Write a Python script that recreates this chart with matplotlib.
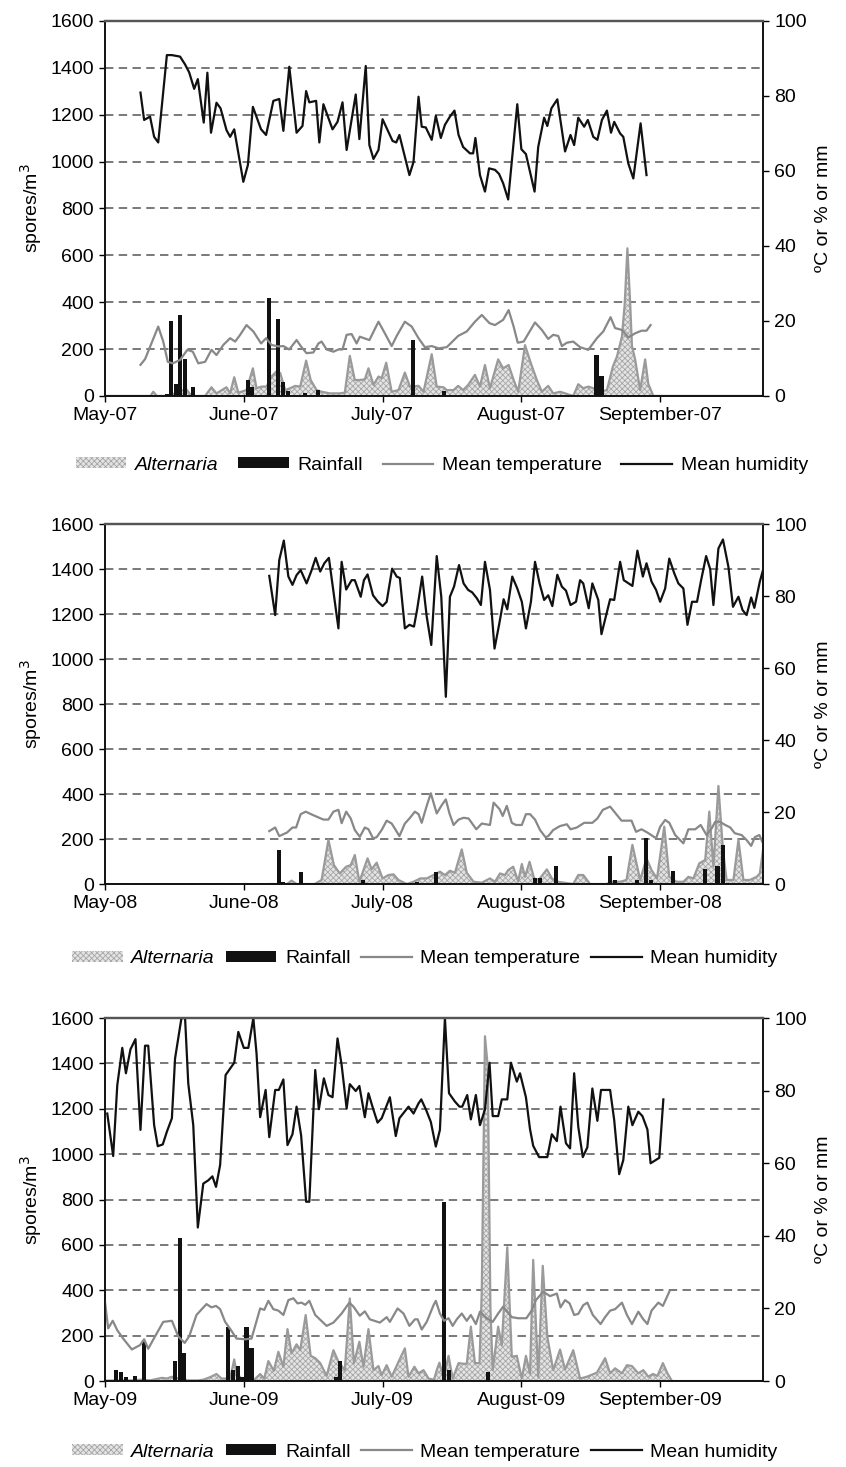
import matplotlib.pyplot as plt
from matplotlib.patches import Patch
from matplotlib.lines import Line2D

plt.rcParams['font.family'] = ['Liberation Sans', 'DejaVu Sans']
plt.rcParams['font.size'] = 14
plt.rcParams['hatch.linewidth'] = 0.6

# day index counted from 1 May; (day, value) pairs
month_names = ['May', 'June', 'July', 'August', 'September']
month_ticks = [0, 30.5, 61, 91.5, 122]
x_end = 144.6

# ---------------- 2007 ----------------
alt07 = [(0, 0), (10.0, 0), (10.6, 18), (11.4, 0), (14.5, 0), (15.8, 18), (17.9, 28), (19.0, 0),
         (22.0, 0), (23.4, 37), (24.5, 11), (26.7, 37), (27.5, 11), (28.4, 80), (29.3, 14),
         (31.1, 25), (32.5, 118), (33.3, 33), (34.4, 40), (35.5, 40), (36.6, 83), (37.7, 105),
         (38.5, 98), (39.6, 25), (40.7, 33), (41.8, 43), (42.9, 40), (44.2, 151), (45.2, 68),
         (46.5, 25), (47.6, 18), (49.4, 11), (51.6, 11), (52.7, 14), (53.8, 171), (54.9, 68),
         (56.0, 68), (57.1, 71), (57.9, 118), (59.0, 47), (60.1, 83), (60.8, 76), (61.8, 142),
         (63.0, 18), (64.5, 25), (65.9, 100), (67.0, 40), (68.9, 43), (70.0, 18), (71.8, 178),
         (72.9, 40), (74.4, 37), (75.1, 25), (76.6, 25), (77.6, 43), (78.7, 25), (79.8, 47),
         (81.3, 90), (82.4, 40), (83.5, 132), (84.6, 33), (86.4, 156), (87.5, 118), (88.7, 132),
         (89.8, 68), (90.8, 18), (92.3, 217), (93.6, 139), (94.9, 68), (96.0, 18), (97.4, 43),
         (98.5, 11), (100.0, 18), (102.9, 0), (104.0, 50), (105.1, 33), (106.2, 40), (107.3, 33),
         (108.8, 18), (110.3, 25), (111.6, 125), (112.5, 168), (113.6, 253), (114.2, 390),
         (114.8, 630), (115.4, 400), (115.8, 213), (116.5, 156), (117.6, 25), (118.7, 156),
         (119.4, 51), (120.5, 0), (144.6, 0)]
rain07 = [(13.6, 0.6), (14.5, 20.0), (15.6, 3.2), (16.5, 21.6), (17.6, 9.9), (19.4, 2.4),
          (31.4, 4.3), (32.4, 2.4), (36.1, 26.0), (38.1, 20.4), (39.2, 3.6), (40.3, 1.3),
          (44.0, 0.7), (46.9, 1.7), (67.6, 14.9), (74.5, 1.3), (108.0, 10.8), (109.1, 5.3)]
tmp07 = [(7.8, 8.3), (8.8, 9.8), (9.9, 13.1), (11.7, 18.5), (12.8, 14.5), (13.8, 9.1), (14.9, 8.7),
         (16.5, 9.6), (18.1, 12.3), (19.3, 11.8), (20.5, 8.7), (22.0, 9.1), (23.4, 12.3),
         (24.5, 10.9), (26.0, 13.6), (27.5, 15.4), (28.6, 14.5), (29.7, 16.3), (31.1, 18.9),
         (32.6, 17.2), (34.3, 14.0), (35.4, 15.4), (36.6, 13.6), (38.1, 13.2), (39.2, 13.3),
         (40.5, 12.4), (42.1, 14.9), (43.2, 13.0), (44.3, 11.4), (45.8, 11.6), (46.9, 14.0),
         (47.6, 14.5), (48.7, 12.4), (50.2, 11.8), (51.3, 12.4), (52.2, 12.4), (53.1, 16.3),
         (54.2, 16.5), (55.3, 14.0), (56.0, 15.8), (58.1, 14.9), (60.1, 19.8), (61.5, 16.7),
         (63.0, 13.3), (64.1, 16.0), (65.9, 19.8), (67.4, 18.5), (68.9, 15.4), (70.3, 13.0),
         (71.8, 13.3), (73.3, 12.7), (75.1, 13.0), (77.6, 16.0), (79.5, 17.2), (81.3, 19.8),
         (82.8, 21.6), (84.5, 19.4), (85.7, 18.9), (87.5, 20.3), (88.7, 22.9), (89.8, 18.5),
         (90.7, 14.2), (92.0, 14.5), (94.5, 19.6), (96.0, 17.6), (97.4, 15.2), (98.5, 16.3),
         (99.6, 16.0), (100.4, 13.3), (101.5, 14.2), (102.9, 14.5), (104.4, 13.0), (106.2, 12.3),
         (108.1, 15.4), (109.5, 17.2), (111.1, 21.0), (112.1, 18.1), (113.6, 17.6), (115.0, 15.6),
         (116.5, 16.7), (117.9, 17.4), (119.0, 17.4), (119.9, 18.9)]
hum07 = [(7.8, 80.9), (8.6, 73.6), (9.9, 74.5), (10.8, 69.1), (11.7, 67.6), (13.6, 90.9),
         (14.7, 90.9), (16.5, 90.5), (17.6, 88.4), (18.5, 86.3), (19.6, 81.9), (20.4, 84.5),
         (21.7, 72.9), (22.5, 86.2), (23.3, 70.2), (24.5, 78.2), (25.4, 76.7), (26.7, 70.9),
         (27.5, 69.1), (28.4, 71.1), (30.4, 57.1), (31.4, 61.6), (32.5, 77.1), (34.3, 71.1),
         (35.4, 69.6), (37.0, 78.7), (38.3, 79.2), (39.2, 70.7), (40.5, 87.8), (42.1, 70.2),
         (43.4, 72.0), (44.2, 81.3), (44.9, 78.3), (46.4, 78.7), (47.1, 67.6), (48.0, 77.8),
         (50.0, 71.1), (51.1, 73.1), (52.2, 78.3), (53.1, 65.6), (55.1, 80.4), (55.9, 68.5),
         (57.3, 88.0), (58.1, 66.9), (59.0, 63.2), (60.1, 65.6), (61.0, 73.8), (63.2, 68.0),
         (64.0, 67.6), (64.7, 69.6), (66.9, 58.9), (67.8, 62.4), (68.9, 79.8), (69.6, 71.8),
         (70.5, 71.6), (71.8, 68.3), (72.7, 74.7), (73.8, 68.8), (74.7, 72.3), (75.8, 74.5),
         (76.8, 76.1), (77.7, 69.6), (78.7, 66.4), (80.2, 64.7), (80.9, 64.7), (81.4, 68.8),
         (82.4, 58.9), (83.5, 54.5), (84.4, 60.7), (85.7, 60.3), (86.6, 59.2), (87.5, 56.7),
         (88.6, 52.4), (90.6, 77.8), (91.5, 65.8), (92.5, 64.5), (94.4, 54.5), (95.2, 66.4),
         (96.5, 74.2), (97.2, 72.0), (98.1, 76.7), (99.4, 79.1), (101.1, 65.2), (102.3, 69.6),
         (103.1, 66.9), (104.0, 74.2), (105.3, 71.8), (106.1, 73.6), (107.3, 69.1), (108.2, 68.3),
         (109.2, 73.6), (110.3, 76.1), (111.2, 70.2), (111.9, 73.1), (113.2, 70.0), (113.9, 69.1),
         (115.0, 62.0), (116.1, 58.0), (117.7, 72.7), (119.0, 58.9)]

# ---------------- 2008 ----------------
alt08 = [(36.1, 0), (38.5, 0), (40.0, 0), (41.0, 15), (42.1, 0), (46.1, 0), (47.6, 18), (49.1, 196),
         (50.3, 84), (51.6, 47), (53.0, 77), (54.0, 84), (54.9, 129), (55.9, 10), (57.7, 114),
         (58.6, 65), (59.7, 95), (61.0, 25), (62.3, 40), (63.4, 43), (64.5, 18), (66.3, 0),
         (67.8, 10), (69.3, 25), (70.7, 25), (72.2, 40), (73.6, 55), (74.7, 40), (75.8, 59),
         (76.9, 50), (78.4, 154), (79.5, 50), (81.0, 10), (82.8, 6), (84.6, 25), (85.7, 10),
         (86.8, 47), (87.9, 40), (88.6, 62), (89.7, 77), (90.8, 12), (91.6, 89), (92.3, 32),
         (93.3, 99), (94.3, 25), (95.3, 18), (97.1, 65), (98.2, 25), (99.5, 10), (102.9, 0),
         (104.0, 40), (105.1, 40), (106.6, 0), (110.2, 0), (111.3, 10), (113.2, 10), (114.6, 18),
         (115.9, 174), (117.6, 18), (119.0, 114), (120.1, 62), (121.3, 25), (122.9, 255),
         (124.0, 32), (125.6, 10), (127.1, 10), (128.2, 32), (129.3, 25), (130.6, 92),
         (131.9, 107), (132.8, 322), (133.7, 77), (134.8, 436), (135.8, 151), (136.6, 18),
         (138.1, 18), (139.2, 196), (140.3, 18), (141.7, 18), (143.2, 32), (143.9, 47),
         (144.6, 151)]
rain08 = [(38.2, 9.4), (39.2, 0.5), (43.0, 3.2), (47.8, 0.4), (56.7, 1.1), (68.5, 0.5),
          (72.7, 3.2), (77.7, 0.4), (83.3, 0.4), (84.0, 0.4), (87.3, 0.4), (94.5, 1.6),
          (95.5, 1.6), (99.1, 5.0), (111.0, 7.8), (112.1, 1.0), (116.9, 1.0), (118.9, 12.9),
          (120.0, 1.0), (124.9, 3.6), (131.9, 4.1), (132.6, 0.4), (134.6, 5.1), (135.8, 10.8),
          (136.9, 0.4)]
tmp08 = [(36.1, 14.7), (37.4, 15.7), (38.3, 13.3), (40.0, 14.3), (41.2, 15.7), (42.0, 15.7),
         (43.0, 19.4), (44.1, 20.1), (45.8, 19.1), (48.0, 17.9), (49.1, 17.9), (50.2, 20.1),
         (51.3, 20.6), (52.0, 16.9), (53.0, 20.1), (54.0, 18.2), (54.9, 15.0), (56.0, 13.1),
         (57.1, 15.7), (57.9, 15.2), (58.9, 12.7), (59.7, 13.0), (60.8, 15.0), (61.9, 17.6),
         (63.0, 16.8), (63.7, 15.4), (64.7, 13.3), (65.9, 16.8), (66.9, 18.2), (68.1, 20.1),
         (68.9, 19.4), (69.6, 17.0), (70.7, 21.7), (71.6, 25.2), (72.9, 19.6), (74.0, 21.9),
         (74.9, 23.5), (75.7, 19.6), (76.6, 16.4), (77.7, 17.9), (78.8, 18.4), (79.9, 18.2),
         (81.6, 15.2), (82.8, 16.8), (84.6, 16.4), (85.4, 22.6), (86.7, 20.8), (87.4, 18.9),
         (88.3, 21.7), (89.4, 17.0), (90.3, 16.4), (91.6, 16.4), (92.5, 19.4), (93.4, 19.4),
         (94.5, 17.9), (95.6, 15.0), (96.8, 13.0), (97.4, 13.3), (98.5, 15.0), (100.0, 16.1),
         (101.5, 16.6), (102.3, 15.2), (103.7, 15.7), (105.3, 17.0), (107.1, 17.0), (108.2, 18.2),
         (109.4, 20.6), (111.0, 21.5), (112.1, 19.8), (113.5, 17.6), (115.7, 17.6), (116.7, 14.5),
         (117.9, 15.2), (119.2, 14.3), (121.1, 12.7), (122.0, 15.9), (123.1, 17.8), (124.0, 17.0),
         (125.3, 13.6), (127.1, 11.3), (128.2, 15.2), (129.7, 15.2), (130.9, 16.4), (132.2, 13.6),
         (133.3, 15.4), (134.1, 17.3), (135.1, 17.3), (136.3, 16.4), (137.4, 15.7), (138.4, 14.1),
         (139.9, 13.6), (141.0, 12.2), (142.0, 10.6), (142.8, 13.0), (143.8, 13.6), (144.6, 11.3)]
hum08 = [(36.1, 85.6), (37.4, 74.7), (38.3, 90.0), (39.3, 95.4), (40.3, 85.4), (41.2, 83.1),
         (42.1, 85.8), (43.0, 87.2), (44.3, 83.5), (45.3, 86.8), (46.3, 90.6), (47.3, 86.8),
         (48.2, 89.1), (49.2, 90.6), (51.3, 71.0), (52.0, 89.5), (53.0, 81.8), (54.2, 84.4),
         (54.9, 84.4), (56.2, 79.8), (56.9, 84.4), (57.7, 86.0), (58.9, 80.2), (60.0, 78.4),
         (61.0, 77.2), (61.9, 78.4), (63.1, 87.6), (64.1, 85.4), (64.8, 85.0), (65.9, 71.0),
         (66.9, 72.0), (67.9, 71.5), (68.6, 76.3), (69.7, 85.4), (70.7, 74.3), (71.7, 66.4),
         (72.9, 91.1), (73.9, 79.8), (74.9, 52.0), (75.8, 79.8), (76.7, 82.6), (77.8, 88.6),
         (78.8, 83.5), (79.8, 81.7), (80.7, 81.0), (81.7, 79.4), (82.6, 77.5), (83.5, 89.5),
         (84.6, 81.7), (85.6, 65.4), (86.6, 72.0), (87.6, 79.1), (88.4, 76.3), (89.5, 85.4),
         (90.6, 82.1), (91.6, 78.4), (92.5, 71.0), (93.6, 78.4), (94.5, 89.5), (95.5, 83.5),
         (96.5, 78.9), (97.4, 80.2), (98.3, 77.2), (99.4, 85.9), (100.4, 82.6), (101.3, 81.5),
         (102.3, 77.5), (103.5, 78.4), (104.4, 84.4), (105.1, 83.5), (106.3, 76.6), (107.1, 83.5),
         (108.4, 78.9), (109.1, 69.4), (111.0, 79.1), (111.9, 78.9), (113.2, 89.5), (114.0, 84.4),
         (115.9, 82.8), (117.0, 92.6), (118.2, 85.4), (119.0, 89.1), (120.1, 84.0), (121.1, 81.7),
         (122.0, 78.4), (123.1, 82.1), (124.0, 90.4), (125.1, 86.3), (126.0, 83.5), (127.1, 82.1),
         (128.0, 72.0), (129.0, 78.4), (130.1, 78.4), (131.0, 84.4), (132.1, 91.1), (133.0, 87.4),
         (133.7, 77.5), (134.8, 93.2), (135.8, 95.7), (137.0, 88.1), (138.0, 77.0), (139.2, 79.8),
         (140.1, 76.1), (141.0, 74.7), (142.0, 79.6), (142.7, 76.7), (143.9, 84.0), (144.6, 87.2)]

# ---------------- 2009 ----------------
alt09 = [(0, 2), (6.2, 3), (8.0, 6), (9.9, 3), (12.5, 14), (13.6, 11), (14.7, 19), (15.8, 11),
         (16.8, 19), (18.0, 3), (20.5, 3), (21.6, 6), (23.1, 17), (24.5, 31), (25.6, 11),
         (27.5, 11), (28.4, 95), (28.9, 34), (30.0, 11), (31.1, 17), (32.7, 3), (34.1, 31),
         (35.0, 11), (35.9, 88), (37.1, 45), (38.1, 129), (39.2, 63), (40.1, 229), (41.0, 122),
         (42.1, 162), (42.9, 136), (44.1, 291), (45.2, 111), (46.2, 101), (47.3, 79), (48.7, 23),
         (50.2, 136), (51.3, 85), (52.7, 48), (53.8, 364), (54.7, 79), (55.9, 173), (56.8, 63),
         (57.9, 229), (59.0, 48), (60.1, 66), (60.8, 26), (61.9, 70), (63.0, 19), (64.5, 85),
         (65.9, 144), (66.7, 19), (68.0, 63), (68.9, 34), (70.0, 48), (71.1, 11), (72.3, 6),
         (72.9, 48), (73.5, 81), (74.4, 11), (75.5, 111), (76.4, 11), (77.7, 79), (78.8, 76),
         (79.5, 76), (80.4, 240), (81.3, 79), (82.3, 79), (82.8, 400), (83.5, 1520), (84.1, 1390),
         (84.7, 320), (85.2, 48), (86.4, 240), (87.2, 159), (88.4, 590), (89.4, 107), (90.5, 111),
         (91.6, 11), (92.5, 111), (93.4, 34), (94.1, 534), (95.2, 19), (96.2, 508), (97.2, 196),
         (98.5, 48), (100.0, 139), (101.1, 51), (102.9, 136), (104.4, 11), (105.9, 19),
         (108.1, 37), (109.9, 101), (111.0, 34), (112.1, 56), (113.6, 34), (114.7, 70),
         (115.8, 66), (117.2, 34), (118.3, 48), (119.4, 19), (120.4, 31), (121.4, 23),
         (122.6, 79), (123.6, 34), (124.6, 0), (144.6, 0)]
rain09 = [(2.4, 3.0), (3.5, 2.6), (4.6, 1.2), (6.6, 1.5), (8.6, 11.1), (15.4, 5.6), (16.5, 39.3),
          (17.4, 7.6), (27.1, 14.8), (28.1, 3.0), (29.2, 4.1), (30.2, 1.2), (31.1, 14.8),
          (32.2, 9.2), (46.0, 0.4), (48.0, 0.4), (50.8, 1.2), (51.6, 5.6), (74.5, 49.2),
          (75.5, 3.0), (78.4, 0.4), (84.2, 2.6)]
tmp09 = [(0, 21.8), (0.7, 14.5), (1.7, 16.6), (2.7, 14.0), (4.0, 11.7), (5.9, 8.7), (7.7, 9.9),
         (8.6, 11.5), (9.5, 8.9), (11.0, 12.3), (12.8, 16.3), (14.7, 16.6), (16.1, 12.3),
         (17.5, 10.5), (18.5, 12.3), (20.1, 18.2), (22.3, 21.2), (23.4, 20.3), (24.4, 20.7),
         (25.3, 19.8), (26.4, 16.3), (27.6, 14.2), (28.9, 11.7), (30.8, 11.5), (32.2, 11.7),
         (34.1, 20.0), (35.0, 19.6), (35.9, 22.1), (37.0, 19.8), (38.1, 19.4), (39.2, 18.2),
         (40.3, 22.3), (41.4, 22.8), (42.3, 21.4), (43.2, 21.6), (44.0, 21.0), (44.9, 22.1),
         (46.2, 18.2), (47.2, 17.0), (48.7, 15.2), (50.2, 16.1), (52.0, 18.6), (53.7, 21.6),
         (54.6, 20.5), (56.0, 18.0), (57.1, 19.2), (58.2, 17.0), (60.4, 16.1), (61.9, 17.6),
         (62.6, 16.3), (64.3, 20.0), (65.6, 18.6), (66.9, 15.2), (68.1, 17.0), (68.7, 17.0),
         (69.6, 14.2), (70.7, 16.3), (72.2, 20.9), (72.7, 22.1), (73.6, 18.6), (74.5, 16.6),
         (75.5, 17.3), (76.4, 15.2), (77.3, 17.0), (78.4, 18.6), (79.5, 16.6), (80.4, 18.2),
         (81.5, 15.7), (82.4, 19.1), (83.9, 17.3), (85.2, 16.3), (86.4, 18.6), (87.5, 20.5),
         (89.4, 17.6), (90.8, 17.3), (92.6, 17.3), (93.8, 19.5), (94.7, 22.3), (96.3, 24.6),
         (97.8, 23.4), (99.3, 24.1), (100.1, 20.3), (101.1, 22.3), (102.1, 21.4), (103.1, 18.2),
         (104.0, 18.5), (105.1, 20.9), (106.0, 21.6), (107.2, 18.2), (108.9, 15.7), (109.9, 17.6),
         (111.0, 19.4), (112.1, 19.8), (113.6, 21.6), (114.7, 18.2), (115.8, 15.7), (117.2, 19.1),
         (118.3, 17.0), (119.2, 15.7), (120.1, 19.4), (121.6, 21.6), (122.6, 20.7), (124.0, 24.6)]
hum09 = [(0.5, 73.7), (1.8, 62.0), (2.7, 81.5), (3.8, 91.8), (4.6, 84.8), (5.6, 91.4), (6.7, 94.2),
         (7.8, 69.2), (8.8, 92.4), (9.5, 92.4), (10.8, 70.5), (11.6, 64.7), (12.7, 65.2),
         (13.6, 68.7), (14.7, 72.4), (15.4, 88.9), (16.8, 100), (17.6, 100), (18.3, 82.0),
         (19.4, 70.5), (20.4, 42.3), (21.6, 54.4), (22.7, 55.3), (23.6, 56.4), (24.4, 53.5),
         (25.3, 59.5), (26.5, 84.3), (27.5, 86.1), (28.4, 87.7), (29.3, 96.2), (30.5, 91.8),
         (31.5, 91.8), (32.6, 100), (33.3, 90.3), (34.1, 72.7), (35.3, 80.2), (36.1, 67.2),
         (37.4, 80.2), (38.2, 80.2), (39.2, 83.1), (40.1, 65.0), (41.2, 68.0), (42.1, 75.6),
         (43.1, 67.7), (44.2, 49.4), (44.9, 49.4), (46.2, 85.7), (47.0, 74.9), (48.1, 83.4),
         (49.1, 78.8), (50.0, 78.2), (51.1, 94.4), (52.0, 87.1), (53.1, 75.1), (53.8, 81.8),
         (55.1, 79.9), (55.9, 81.3), (57.1, 72.7), (57.9, 79.3), (58.9, 75.1), (59.9, 71.2),
         (60.8, 72.4), (61.8, 75.6), (62.6, 78.2), (63.9, 67.5), (64.7, 72.4), (66.7, 75.6),
         (67.8, 73.7), (68.9, 76.5), (69.5, 77.6), (70.6, 74.6), (71.6, 71.4), (72.7, 64.6),
         (73.6, 69.2), (74.7, 100), (75.6, 79.3), (76.9, 77.0), (77.9, 75.6), (78.5, 75.6),
         (79.6, 78.8), (80.4, 72.1), (81.5, 78.8), (82.4, 70.5), (83.5, 74.8), (84.5, 87.7),
         (85.2, 73.0), (86.4, 73.0), (87.2, 77.6), (88.4, 77.6), (89.2, 87.7), (90.5, 82.5),
         (91.2, 84.8), (92.5, 78.2), (93.4, 69.4), (94.1, 64.8), (95.4, 61.7), (97.2, 61.7),
         (98.2, 68.0), (99.3, 66.1), (100.1, 75.6), (101.3, 65.5), (102.2, 64.1), (103.1, 84.8),
         (104.0, 70.1), (105.0, 61.7), (106.0, 64.4), (107.1, 80.6), (108.2, 71.7), (109.0, 80.2),
         (111.0, 80.2), (111.9, 71.9), (113.0, 57.0), (113.9, 60.9), (115.0, 75.6), (115.9, 70.5),
         (117.2, 74.2), (118.1, 73.0), (119.2, 69.3), (119.9, 60.0), (121.8, 61.5), (122.7, 77.6)]

panels = [
    ('07', [0.1241, 0.7301, 0.7778, 0.2556], -0.185, 0.512, 1.0, alt07, rain07, tmp07, hum07),
    ('08', [0.1241, 0.3974, 0.7778, 0.2454], -0.208, 0.486, 0.55, alt08, rain08, tmp08, hum08),
    ('09', [0.1241, 0.0586, 0.7778, 0.2474], -0.196, 0.486, 0.55, alt09, rain09, tmp09, hum09),
]

alt_face = '#e4e4e4'
alt_hatch = '#a6a6a6'
alt_edge = '#9a9a9a'
temp_col = '#888888'
hum_col = '#111111'

fig = plt.figure(figsize=(8.46, 14.67), dpi=100)

for yr, rect, leg_y, leg_x, colsp, alt, rain, tmp, hum in panels:
    ax = fig.add_axes(rect)
    ax2 = ax.twinx()

    ad, av = zip(*alt)
    ax.fill_between(ad, av, 0, facecolor=alt_face, edgecolor=alt_hatch, hatch='xxxxxx', linewidth=0)
    ax.plot(ad, av, color=alt_edge, lw=1.6)

    rd, rv = zip(*rain)
    ax2.bar(rd, rv, width=0.9, color='#111111')
    td, tv = zip(*tmp)
    ax2.plot(td, tv, color=temp_col, lw=1.6)
    hd, hv = zip(*hum)
    ax2.plot(hd, hv, color=hum_col, lw=1.6)

    ax.set_xlim(0, x_end)
    ax.set_ylim(0, 1600)
    ax2.set_ylim(0, 100)
    ax.set_yticks(range(0, 1601, 200))
    ax2.set_yticks(range(0, 101, 20))
    ax.set_xticks(month_ticks)
    ax.set_xticklabels([m + '-' + yr for m in month_names])

    ax.set_axisbelow(True)
    ax.yaxis.grid(True, color='#555555', lw=1.1, linestyle=(0, (5.5, 3.5)))
    ax.tick_params(direction='out', length=4, width=1, pad=4)
    ax2.tick_params(direction='out', length=4, width=1, pad=4)

    for a in (ax, ax2):
        for s in ('left', 'right', 'bottom'):
            a.spines[s].set_color('#111111')
            a.spines[s].set_linewidth(1.2)
        a.spines['top'].set_color('#555555')
        a.spines['top'].set_linewidth(1.6)

    ax.set_ylabel('spores/m$^3$')
    ax.yaxis.set_label_coords(-0.093, 0.5)
    ax2.set_ylabel('ºC or % or mm')
    ax2.yaxis.set_label_coords(1.079, 0.5)

    handles = [Patch(facecolor=alt_face, edgecolor=alt_hatch, hatch='xxxxxx', linewidth=0),
               Patch(facecolor='#111111', linewidth=0),
               Line2D([], [], color=temp_col, lw=1.6),
               Line2D([], [], color=hum_col, lw=1.6)]
    leg = ax2.legend(handles, ['Alternaria', 'Rainfall', 'Mean temperature', 'Mean humidity'],
                     loc='center', bbox_to_anchor=(leg_x, leg_y), ncol=4, frameon=False,
                     handlelength=2.6, handleheight=0.5, handletextpad=0.45, columnspacing=colsp,
                     borderaxespad=0)
    leg.get_texts()[0].set_fontstyle('italic')

fig.savefig('out.png', dpi=100)
